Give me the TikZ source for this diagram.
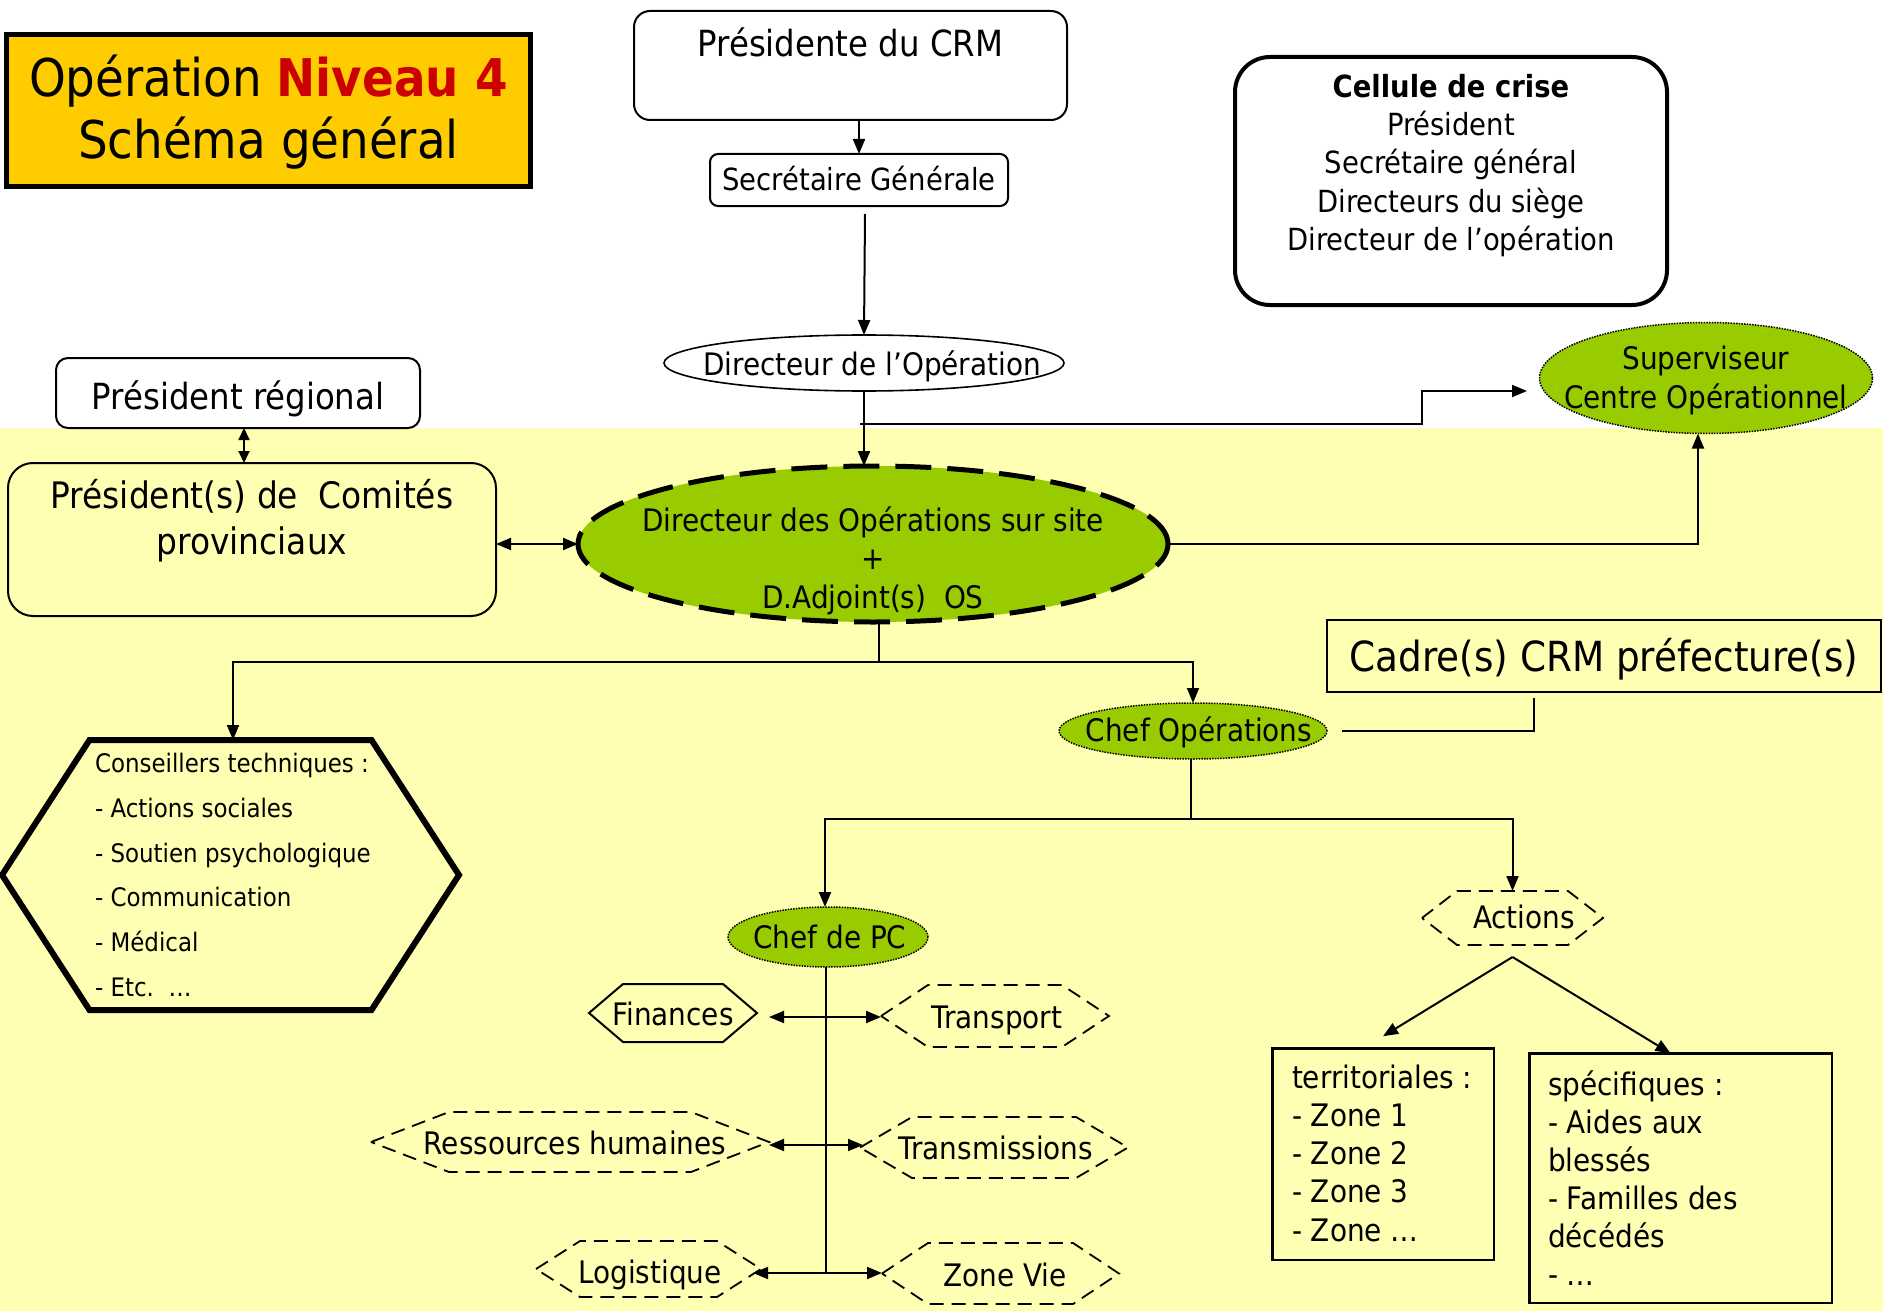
\documentclass[tikz,border=0pt]{standalone}
\usepackage{fontspec}
\setmainfont{DejaVu Sans Condensed}[BoldFont={DejaVu Sans Condensed Bold}]
\usetikzlibrary{shapes.geometric,arrows.meta,calc}
\definecolor{bgy}{HTML}{FFFFB3}
\definecolor{gold}{HTML}{FFCC00}
\definecolor{titred}{HTML}{CC0000}
\definecolor{grn}{HTML}{99CC00}
\newcommand\fs[2]{\fontsize{#1pt}{#2pt}\selectfont}
\newcommand\ctext[3][0]{\makebox[0pt]{\hspace*{#1pt}\raisebox{#2pt}[0pt][0pt]{\begin{tabular}[t]{@{}c@{}}#3\end{tabular}}}}
\newcommand\ltext[3]{\makebox[0pt][l]{\hspace*{#1pt}\raisebox{#2pt}[0pt][0pt]{\begin{tabular}[t]{@{}l@{}}#3\end{tabular}}}}
\newcommand\hexpath[3]{\draw[#1] (#2.west) -- ([xshift=#3pt]#2.north west) -- ([xshift=-#3pt]#2.north east) -- (#2.east) -- ([xshift=-#3pt]#2.south east) -- ([xshift=#3pt]#2.south west) -- cycle;}
\begin{document}
\begin{tikzpicture}[x=1pt,y=-1pt,line width=2pt,
  every node/.style={inner sep=0pt,outer sep=0pt,font=\fs{31}{38.5}},
  arr/.style={-{Triangle[length=15pt,width=12pt]}},
  darr/.style={{Triangle[length=15pt,width=12pt]}-{Triangle[length=15pt,width=12pt]}},
  sdarr/.style={{Triangle[length=12pt,width=11pt]}-{Triangle[length=12pt,width=11pt]}},
  rbox/.style={draw,rectangle},
  gell/.style={ellipse,draw,fill=grn,line width=1.5pt,dash pattern=on 1.5pt off 1.2pt},
  hexn/.style={rectangle},
  hexd/.style={line width=1.8pt,dash pattern=on 14pt off 8pt}]
\useasboundingbox (0,0) rectangle (1883,1311);
\fill[white] (0,0) rectangle (1883,1311);
\fill[bgy] (0,428) rectangle (1883,1311);

% top nodes
\node[rbox,line width=5pt,fill=gold,minimum width=524,minimum height=152,font=\fs{52}{62}] (title) at (268.5,110.5)
  {\ctext{13.5}{Opération \textcolor{titred}{\textbf{Niveau 4}}\\Schéma général}};
\node[rbox,fill=white,rounded corners=16pt,minimum width=433,minimum height=109,font=\fs{36}{44}] (prescrm) at (850.5,65.5)
  {\ctext{8.5}{Présidente du CRM}};
\node[rbox,fill=white,rounded corners=8pt,minimum width=298,minimum height=52,font=\fs{30.5}{38}] (secgen) at (859,180)
  {\ctext{-10}{Secrétaire Générale}};
\node[ellipse,draw,fill=white,line width=1.6pt,minimum width=400,minimum height=56] (dirop) at (864,363)
  {\ctext[16]{-12}{Directeur de l’Opération}};
\node[rbox,line width=4pt,fill=white,rounded corners=35pt,minimum width=432,minimum height=248,font=\fs{30.5}{38.5}] (cell) at (1451,181)
  {\ctext{84}{\textbf{Cellule de crise}\\Président\\Secrétaire général\\Directeurs du siège\\Directeur de l’opération}};
\node[gell,minimum width=333,minimum height=111,font=\fs{31}{39}] (superv) at (1706,378)
  {\ctext{9}{Superviseur\\Centre Opérationnel}};
\node[rbox,fill=white,rounded corners=12pt,minimum width=364,minimum height=70,font=\fs{36}{44}] (presreg) at (238,393)
  {\ctext{-16.5}{Président régional}};
\node[rbox,rounded corners=25pt,minimum width=488,minimum height=153,font=\fs{36.5}{46}] (presprov) at (252,539.5)
  {\ctext{31}{Président(s) de~~Comités\\provinciaux}};
\node[ellipse,draw,fill=grn,line width=5pt,dash pattern=on 36pt off 16pt,minimum width=590,minimum height=156] (dos) at (873,544)
  {\ctext{13}{Directeur des Opérations sur site\\+\\D.Adjoint(s)~~OS}};
\node[rbox,minimum width=554,minimum height=72,font=\fs{41.5}{48}] (cadre) at (1604,656)
  {\ctext{-15}{Cadre(s) CRM préfecture(s)}};
\node[gell,minimum width=268,minimum height=56] (chefops) at (1193,731)
  {\ctext[12]{-10}{Chef Opérations}};
\node[gell,minimum width=200,minimum height=60] (chefpc) at (828,937)
  {\ctext[4]{-11}{Chef de PC}};

% hexagons
\node[hexn,minimum width=457,minimum height=270,font=\fs{25.5}{44.8}] (cons) at (230.5,875)
  {\ltext{-135.5}{102.5}{Conseillers techniques :\\- Actions sociales\\- Soutien psychologique\\- Communication\\- Médical\\- Etc.~~…}};
\hexpath{line width=6pt}{cons}{87.5}
\node[hexn,minimum width=181,minimum height=54] (actions) at (1512.5,918) {\ctext[23]{-10}{Actions}};
\hexpath{hexd}{actions}{35}
\node[hexn,minimum width=168,minimum height=58] (fin) at (673,1013) {\ctext{-12}{Finances}};
\hexpath{line width=2pt}{fin}{34}
\node[hexn,minimum width=228,minimum height=62] (trans) at (995,1016) {\ctext[4]{-12}{Transport}};
\hexpath{hexd}{trans}{47}
\node[hexn,minimum width=398,minimum height=60] (rh) at (570,1142) {\ctext[10]{-12}{Ressources humaines}};
\hexpath{hexd}{rh}{78}
\node[hexn,minimum width=268,minimum height=61] (trm) at (994,1147.5) {\ctext[4]{-11.5}{Transmissions}};
\hexpath{hexd}{trm}{52}
\node[hexn,minimum width=225,minimum height=56] (logi) at (648.5,1269) {\ctext[3]{-14}{Logistique}};
\hexpath{hexd}{logi}{44}
\node[hexn,minimum width=237,minimum height=61] (zv) at (1000.5,1273.5) {\ctext[9]{-12.5}{Zone Vie}};
\hexpath{hexd}{zv}{46}

% list boxes
\node[rbox,line width=2.5pt,minimum width=221.5,minimum height=211.5,font=\fs{31}{38.3}] (terr) at (1383,1154)
  {\ltext{-91}{66}{territoriales :\\- Zone 1\\- Zone 2\\- Zone 3\\- Zone …}};
\node[rbox,line width=2.5pt,minimum width=302.5,minimum height=249.5,font=\fs{31}{38}] (spec) at (1680.5,1178)
  {\ltext{-132.5}{83}{spécifiques :\\- Aides aux\\blessés\\- Familles des\\décédés\\- …}};

% connectors
\draw[arr] (prescrm.south -| secgen.north) -- (secgen.north);
\draw[arr] ($(secgen.south)+(6,8)$) -- (dirop.north);
\draw[arr] (dirop.south) -- (dirop.south |- dos.north);
\coordinate (k1) at (1422,424);
\coordinate (k2) at (1527,391);
\draw[arr] ([xshift=-4pt]dirop.south |- k1) -- (k1) |- (k2);
\draw[sdarr] ([xshift=6pt]presreg.south) -- ([xshift=6pt]presreg.south |- presprov.north);
\draw[darr] (presprov.east |- dos.west) -- (dos.west);
\draw[arr] (dos.east) -| ([xshift=-8pt]superv.south);
\coordinate (b1) at (879,662);
\draw ([xshift=6pt]dos.south) -- (b1);
\draw[arr] (b1) -| ([xshift=2.5pt]cons.north);
\draw[arr] (b1) -| (chefops.north);
\draw (cadre.south) ++(-70,6) |- ([xshift=15pt]chefops.east);
\coordinate (b2) at (1191,819);
\draw (chefops.south -| b2) -- (b2);
\draw[arr] (b2) -| ([xshift=-3pt]chefpc.north);
\draw[arr] (b2) -| (actions.north);
\coordinate (r1) at (0,1017);
\coordinate (r2) at (0,1145);
\coordinate (r3) at (0,1273);
\draw ([xshift=-2pt]chefpc.south) -- ([xshift=-2pt]chefpc.south |- r3);
\draw[darr] ([xshift=12pt]fin.east |- r1) -- (trans.west |- r1);
\draw[darr] (rh.east |- r2) -- ([xshift=3pt]trm.west |- r2);
\draw[darr] ([xshift=-8pt]logi.east |- r3) -- (zv.west |- r3);
\coordinate (ap) at ([yshift=-12pt]actions.south);
\draw[arr] (ap) -- ([yshift=12pt]terr.north);
\draw[arr] (ap) -- ([xshift=-10pt]spec.north);
\end{tikzpicture}
\end{document}
